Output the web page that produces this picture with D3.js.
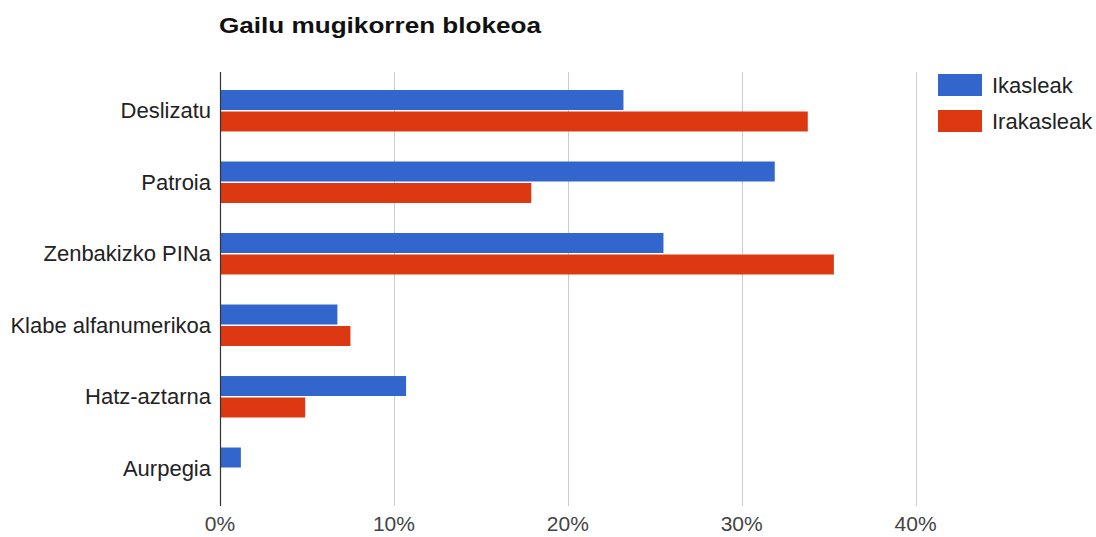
<!DOCTYPE html>
<html><head><meta charset="utf-8">
<script src="https://cdn.jsdelivr.net/npm/d3@7"></script>
<style>body{margin:0;background:#fff;} svg{display:block;font-family:"Liberation Sans",Arial,sans-serif;}</style>
</head><body>
<svg id="c" width="1096" height="537"></svg>
<script>
const categories = ["Deslizatu","Patroia","Zenbakizko PINa","Klabe alfanumerikoa","Hatz-aztarna","Aurpegia"];
const ikasleak = [23.2, 31.9, 25.5, 6.75, 10.7, 1.2];
const irakasleak = [33.8, 17.9, 35.3, 7.5, 4.9, 0];
const seriesNames = ["Ikasleak","Irakasleak"];
const seriesColors = ["#3366cc","#dc3912"];
const xTicks = [0,10,20,30,40];

(function(){
const svg = d3.select("#c");
const left = 220, plotTop = 75, plotH = 429, plotBottom = plotTop + plotH;
const x = d3.scaleLinear().domain([0,40]).range([left, left + 4*173.9]);
const y = d3.scaleBand().domain(categories).range([plotTop, plotBottom]).paddingInner(0.42).paddingOuter(0.21);
const ys = d3.scaleBand().domain(seriesNames).range([0, y.bandwidth()]).paddingInner(0.07);

svg.append("text").attr("x",219).attr("y",33).attr("font-size",22).attr("font-weight","bold").attr("fill","#111")
  .attr("textLength",322).attr("lengthAdjust","spacingAndGlyphs").text("Gailu mugikorren blokeoa");

svg.append("g").selectAll("line").data(xTicks.slice(1)).join("line")
  .attr("x1",d=>Math.round(x(d))+0.5).attr("x2",d=>Math.round(x(d))+0.5)
  .attr("y1",72).attr("y2",plotBottom+2).attr("stroke","#cccccc").attr("stroke-width",1);

const data = categories.map((c,i)=>({c, vals:[ikasleak[i], irakasleak[i]]}));
const g = svg.append("g").selectAll("g").data(data).join("g").attr("transform",d=>`translate(0,${y(d.c)})`);
g.selectAll("rect").data(d=>d.vals.map((v,j)=>({v,s:seriesNames[j],col:seriesColors[j]}))).join("rect")
  .attr("x",x(0)).attr("y",d=>ys(d.s)).attr("height",ys.bandwidth())
  .attr("width",d=>x(d.v)-x(0)).attr("fill",d=>d.col);

svg.append("line").attr("x1",x(0)+0.5).attr("x2",x(0)+0.5).attr("y1",72).attr("y2",plotBottom+2).attr("stroke","#333").attr("stroke-width",1.2);

svg.append("g").selectAll("text").data(categories).join("text")
  .attr("x",211).attr("y",d=>y(d)+y.bandwidth()/2).attr("dy","0.35em")
  .attr("text-anchor","end").attr("font-size",22).attr("fill","#222").text(d=>d);

svg.append("g").selectAll("text").data(xTicks).join("text")
  .attr("x",d=>x(d)).attr("y",531).attr("text-anchor","middle")
  .attr("font-size",21).attr("fill","#444").text(d=>d+"%");

const lg = svg.append("g").selectAll("g").data(seriesNames).join("g")
  .attr("transform",(d,i)=>`translate(938,${74+i*36})`);
lg.append("rect").attr("width",44).attr("height",22).attr("fill",(d,i)=>seriesColors[i]);
lg.append("text").attr("x",54).attr("y",11).attr("dy","0.35em").attr("font-size",22).attr("fill","#222").text(d=>d);
})();
</script>
</body></html>
